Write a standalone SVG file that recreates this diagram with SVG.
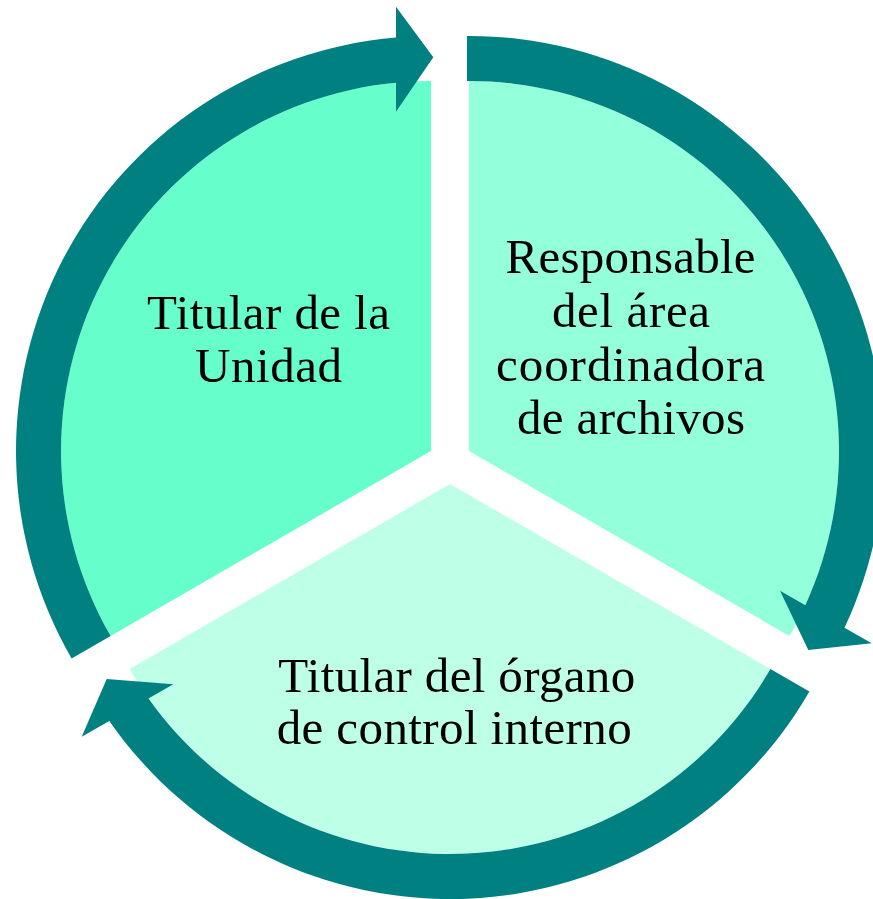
<svg xmlns="http://www.w3.org/2000/svg" width="873" height="899" viewBox="0 0 873 899">
<style>
.lbl{font-family:"Liberation Serif","Times New Roman",serif;font-size:49px;fill:#000;text-anchor:middle}
.arrow{fill:#008080;stroke:none}
</style>
<rect width="873" height="899" fill="#fff"/>
<g id="node-titular-unidad">
<path d="M431,451 L431,81 A370,370 0 0 0 110.6,636 Z" fill="#66FFCC"/>
<text class="lbl" x="268.5" y="329.3" textLength="243" lengthAdjust="spacing">Titular de la</text>
<text class="lbl" x="268.5" y="381.7" textLength="147" lengthAdjust="spacing">Unidad</text>
</g>
<g id="node-responsable">
<path d="M469,451 L469,81 A370,370 0 0 1 789.4,636 Z" fill="#94FFDB"/>
<text class="lbl" x="630.5" y="273" textLength="250" lengthAdjust="spacing">Responsable</text>
<text class="lbl" x="631" y="326.7" textLength="158" lengthAdjust="spacing">del área</text>
<text class="lbl" x="630.5" y="380.6" textLength="269" lengthAdjust="spacing">coordinadora</text>
<text class="lbl" x="631" y="434" textLength="228" lengthAdjust="spacing">de archivos</text>
</g>
<g id="node-organo-control">
<path d="M450,484 L770.4,669 A370,370 0 0 1 129.6,669 Z" fill="#BEFFE8"/>
<text class="lbl" x="456.7" y="692.3" textLength="357" lengthAdjust="spacing">Titular del órgano</text>
<text class="lbl" x="454.2" y="744" textLength="355" lengthAdjust="spacing">de control interno</text>
</g>
<g id="connectors">
<path class="arrow" d="M71.6,658.5 A415,415 0 0 1 396,37.5 L396,6.7 L433.3,57.3 L396,111.7 L396,82.7 A370,370 0 0 0 110.6,636 Z"/>
<path class="arrow" d="M467,36 A415,415 0 0 1 844.5,627.7 L871.7,643.3 L808.3,650 L780,590.7 L805.3,605.2 A370,370 0 0 0 467,81 Z"/>
<path class="arrow" d="M809.4,691.5 A415,415 0 0 1 109.3,721 L81.7,736.7 L106.7,679 L173.3,684.3 L148.5,698.5 A370,370 0 0 0 770.4,669 Z"/>
</g>
</svg>
